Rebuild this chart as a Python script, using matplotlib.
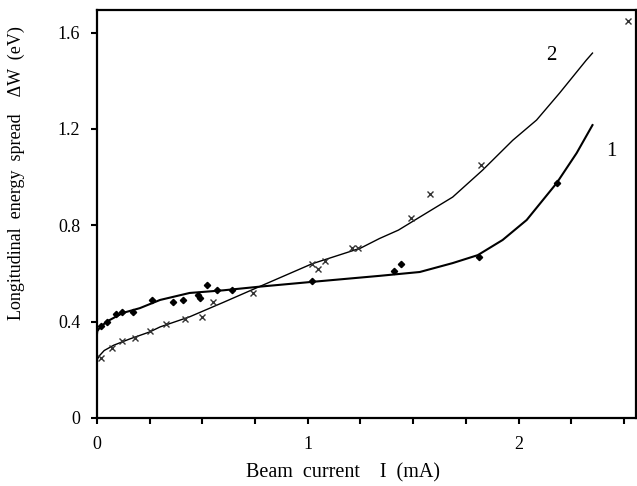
import numpy as np
import matplotlib.pyplot as plt

plt.rcParams['font.family'] = ['Liberation Serif', 'DejaVu Serif']

# measured points, curve 1 (solid markers)
i1 = [0.02, 0.05, 0.09, 0.12, 0.17, 0.26, 0.36, 0.41, 0.48, 0.49, 0.52, 0.57,
      0.64, 1.02, 1.41, 1.44, 1.81, 2.18]
w1 = [0.38, 0.40, 0.43, 0.44, 0.44, 0.49, 0.48, 0.49, 0.51, 0.50, 0.55, 0.53,
      0.53, 0.57, 0.61, 0.64, 0.67, 0.975]

# measured points, curve 2 (crosses)
i2 = [0.02, 0.07, 0.12, 0.18, 0.25, 0.33, 0.42, 0.50, 0.55, 0.74, 1.02, 1.05,
      1.08, 1.21, 1.24, 1.49, 1.58, 1.82, 2.52]
w2 = [0.25, 0.29, 0.32, 0.33, 0.36, 0.39, 0.41, 0.42, 0.48, 0.52, 0.64, 0.62,
      0.65, 0.705, 0.705, 0.83, 0.93, 1.05, 1.65]

# fitted curves
c1_i = [0.0, 0.002, 0.014, 0.047, 0.123, 0.204, 0.30, 0.44, 0.60, 0.77, 1.02,
        1.34, 1.531, 1.687, 1.806, 1.924, 2.038, 2.18, 2.275, 2.35]
c1_w = [0.34, 0.36, 0.375, 0.40, 0.436, 0.456, 0.49, 0.519, 0.53, 0.545, 0.565,
        0.59, 0.606, 0.643, 0.676, 0.739, 0.822, 0.975, 1.10, 1.216]

c2_i = [0.0, 0.003, 0.014, 0.035, 0.08, 0.156, 0.25, 0.30, 0.44, 0.60, 0.77, 1.02,
        1.25, 1.34, 1.43, 1.531, 1.687, 1.829, 1.972, 2.085, 2.194, 2.32, 2.35]
c2_w = [0.22, 0.245, 0.26, 0.28, 0.302, 0.328, 0.357, 0.378, 0.42, 0.48, 0.545, 0.64,
        0.705, 0.745, 0.78, 0.834, 0.917, 1.029, 1.153, 1.237, 1.349, 1.485, 1.515]

fig = plt.figure(figsize=(6.37, 4.86), dpi=100)
ax = fig.add_axes([0.152, 0.14, 0.846, 0.839])

ax.plot(c1_i, c1_w, color='black', lw=1.5)
ax.plot(c2_i, c2_w, color='black', lw=1.0)
ax.plot(i1, w1, 'D', color='black', ms=3.2)
ax.plot(i2, w2, 'x', color='#333333', ms=4, mew=1.0)

ax.text(2.156, 1.506, '2', fontsize=15, ha='center', va='center')
ax.text(2.44, 1.108, '1', fontsize=15, ha='center', va='center')

ax.set_xlim(0, 2.555)
ax.set_ylim(0, 1.693)
ax.set_xticks(np.arange(0, 2.51, 0.25))
ax.set_xticklabels(['0', '', '', '', '1', '', '', '', '2', '', ''])
ax.set_yticks([0, 0.4, 0.8, 1.2, 1.6])
ax.set_yticklabels(['0', '0.4', '0.8', '1.2', '1.6'])
ax.tick_params(direction='out', length=4, width=1.5, labelsize=13)
ax.tick_params(axis='x', pad=9)
ax.tick_params(axis='y', pad=8)
for s in ax.spines.values():
    s.set_linewidth(1.6)

ax.set_xlabel('Beam  current    I  (mA)', fontsize=14.5, va='center')
ax.xaxis.set_label_coords(0.456, -0.135)
ax.set_ylabel('Longitudinal  energy  spread    ΔW  (eV)', fontsize=13, va='center')
ax.yaxis.set_label_coords(-0.15, 0.60)

plt.savefig('out.png', dpi=100)
